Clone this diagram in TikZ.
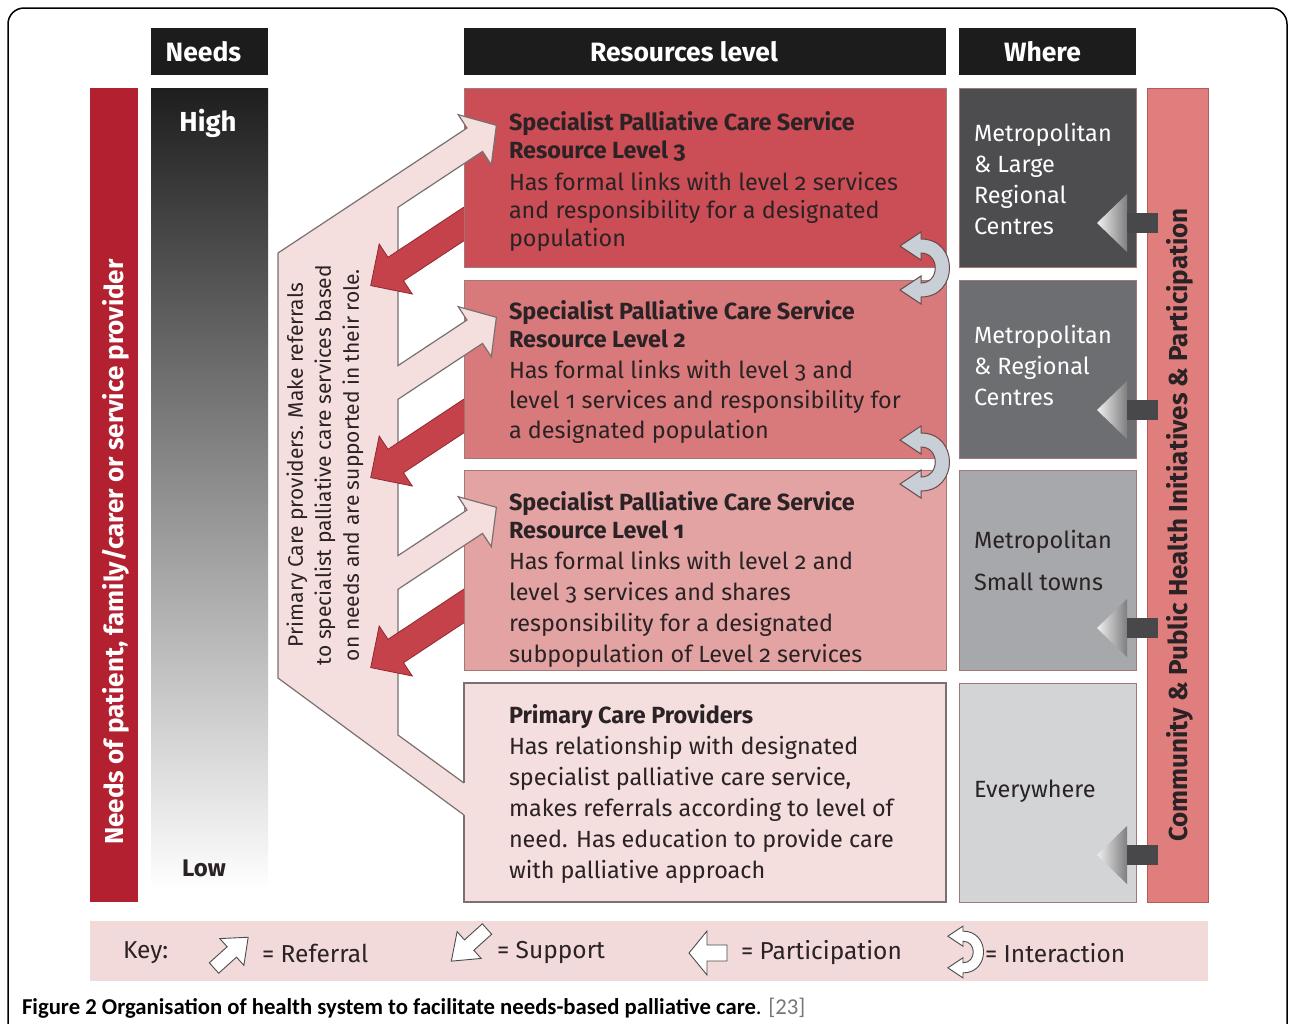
\documentclass[tikz,border=0pt]{standalone}
\usepackage{fontspec}
\setmainfont{Fira Sans}[Numbers=OldStyle]
\newfontfamily\capfont{Carlito}
\usetikzlibrary{positioning}

\definecolor{hdrblack}{HTML}{1C1C1C}
\definecolor{needred}{HTML}{B3202F}
\definecolor{needdark}{HTML}{1E1E1E}
\definecolor{lvlthree}{HTML}{CB4D55}
\definecolor{lvltwo}{HTML}{D87A7B}
\definecolor{lvlone}{HTML}{E4A3A3}
\definecolor{pcpink}{HTML}{F4DEDE}
\definecolor{boxline}{HTML}{A07A7A}
\definecolor{bandgray}{HTML}{7A7070}
\definecolor{supportred}{HTML}{C6424A}
\definecolor{supportdark}{HTML}{8E2A31}
\definecolor{wherea}{HTML}{4D4D4F}
\definecolor{whereb}{HTML}{6D6E71}
\definecolor{wherec}{HTML}{A6A8AB}
\definecolor{whered}{HTML}{D3D4D6}
\definecolor{commred}{HTML}{E07E7E}
\definecolor{commline}{HTML}{B35A5A}
\definecolor{interactgray}{HTML}{C9CFD6}
\definecolor{interactdark}{HTML}{6A4A4A}
\definecolor{partlight}{HTML}{F0F0F0}
\definecolor{partdark}{HTML}{7E7E80}
\definecolor{partshaft}{HTML}{48484A}
\definecolor{keypink}{HTML}{F3DADA}
\definecolor{capgray}{HTML}{777777}
\definecolor{textdark}{HTML}{2A2224}

\tikzset{
	x=1pt, y=-1pt,
	every node/.style={inner sep=0pt, outer sep=0pt},
	frame/.style={draw=black, line width=1.5pt, rounded corners=16pt},
	hdr/.style={fill=hdrblack, minimum height=47, anchor=north west},
	hdrtext/.style={text=white, font=\fontsize{26.5}{30}\selectfont\bfseries},
	bar/.style={anchor=north west},
	box/.style={anchor=north west, draw=boxline, line width=0.8pt},
	boxtext/.style={anchor=north west, align=left, text=textdark, font=\fontsize{23.4}{#1}\selectfont},
	boxtext/.default=30,
	wheretext/.style={anchor=north west, align=left, font=\fontsize{23.5}{31}\selectfont},
	sidetext/.style={rotate=90, font=\fontsize{26}{30}\selectfont\bfseries},
	bandline/.style={draw=bandgray, line width=1.2pt, fill=pcpink},
	support/.style={draw=supportdark, line width=0.8pt, fill=supportred},
	interact/.style={fill=interactgray, draw=interactdark, line width=1pt},
	keyicon/.style={fill=white, draw=gray!60!black, line width=0.9pt},
	keytext/.style={anchor=west, text=textdark, font=\fontsize{24.5}{28}\selectfont},
}

% support arrow from a resource box, #1 = vertical offset
\newcommand{\supportarrow}[1]{%
	\draw[support, shift={(0,#1)}] (464,207) -- (388,257.3) -- (379.2,244) -- (370.7,285.6)
		-- (412.3,294) -- (403.5,280.7) -- (464,240.7);}
% interaction arrow, #1 = options
\newcommand{\interactarrow}[1]{%
	\draw[#1] (-21,-22) -- (0,-36) -- (0,-29) .. controls (38,-29) and (38,29) .. (0,29)
		-- (0,36) -- (-21,22) -- (0,8) -- (0,15) .. controls (19,15) and (19,-15) .. (0,-15)
		-- (0,-8) -- cycle;}
% participation arrow, #1 = y of its axis
\newcommand{\partarrow}[1]{%
	\shade[left color=partlight, right color=partdark] (1097,#1) -- (1127,#1-29) -- (1127,#1+29) -- cycle;
	\fill[partshaft] (1127,#1-10) rectangle (1158,#1+10);}

\begin{document}
\begin{tikzpicture}
	\useasboundingbox (0,0) rectangle (1289,1023);
	\draw[frame] (8,1045) -- (8,8) -- (1287,8) -- (1287,1045);

	% headers
	\node[hdr, minimum width=117] (needhdr) at (151,28) {};
	\node[hdr, minimum width=482] (reshdr) at (464,28) {};
	\node[hdr, minimum width=177] (wherehdr) at (959,28) {};
	\node[hdrtext] (needhdrtxt) at ([xshift=-6]needhdr.center) {Needs};
	\node[hdrtext] (reshdrtxt) at ([xshift=-21]reshdr.center) {Resources level};
	\node[hdrtext] (wherehdrtxt) at ([xshift=-5]wherehdr.center) {Where};

	% needs columns
	\node[bar, fill=needred, minimum width=48, minimum height=814] (needbar) at (90,88) {};
	\node[bar, top color=needdark, bottom color=white, minimum width=117, minimum height=802] (needgrad) at (151,88) {};
	\node[sidetext, text=white] (needtxt) at (116,552) {Needs of patient, family/carer or service provider};
	\node[font=\fontsize{27.5}{30}\selectfont\bfseries, text=white] (high) at (208,123) {High};
	\node[font=\fontsize{24}{26}\selectfont\bfseries, text=textdark] (low) at (204,868) {Low};

	% resource levels
	\node[box, fill=lvlthree, minimum width=482, minimum height=179] (lvl3) at (464,88) {};
	\node[box, fill=lvltwo, minimum width=482, minimum height=178] (lvl2) at (464,280) {};
	\node[box, fill=lvlone, minimum width=482, minimum height=200] (lvl1) at (464,470) {};
	\node[bar, fill=pcpink, minimum width=482, minimum height=219] (pcp) at (464,683) {};

	% primary care band with referral arrows
	\draw[bandline] (464,783) -- (398,735) -- (398,589.3)
		-- (482.5,533.4) -- (491.3,546.7) -- (496.4,507.3) -- (458.2,496.7) -- (467,510) -- (398,555.6)
		-- (398,399.3)
		-- (482.5,343.4) -- (491.3,356.7) -- (496.4,317.3) -- (458.2,306.7) -- (467,320) -- (398,365.6)
		-- (398,207.3)
		-- (482.5,151.4) -- (491.3,164.7) -- (496.4,125.3) -- (458.2,114.7) -- (467,128)
		-- (278,253) -- (278,678) -- (464,815);
	\draw[draw=bandgray, line width=1.2pt] (464,783) -- (pcp.north west) -- (pcp.north east)
		-- (pcp.south east) -- (pcp.south west) -- (464,815);
	\node[rotate=90, align=center, text=textdark, font=\fontsize{21}{28}\selectfont] (pcptxt) at (325,465)
		{Primary Care providers. Make referrals\\to specialist palliative care services based\\on needs and are supported in their role.};

	% support arrows
	\supportarrow{0}
	\supportarrow{192}
	\supportarrow{382}

	% interaction arrows
	\interactarrow{interact, shift={(921,268)}}
	\interactarrow{interact, shift={(921,462)}}

	% box texts
	\node[boxtext] (lvl3txt) at (509,112) {\textbf{Specialist Palliative Care Service}\\[-2pt]\textbf{Resource Level 3}\\[2pt]Has formal links with level 2 services\\[-2pt]and responsibility for a designated\\[-2pt]population};
	\node[boxtext] (lvl2txt) at (509,301) {\textbf{Specialist Palliative Care Service}\\[-2pt]\textbf{Resource Level 2}\\[1pt]Has formal links with level 3 and\\level 1 services and responsibility for\\a designated population};
	\node[boxtext=31] (lvl1txt) at (509,492) {\textbf{Specialist Palliative Care Service}\\[-3pt]\textbf{Resource Level 1}\\Has formal links with level 2 and\\level 3 services and shares\\responsibility for a designated\\subpopulation of Level 2 services};
	\node[boxtext=31] (pcptxt2) at (509,705) {\textbf{Primary Care Providers}\\Has relationship with designated\\specialist palliative care service,\\makes referrals according to level of\\need. Has education to provide care\\with palliative approach};

	% where column
	\node[box, fill=wherea, minimum width=177, minimum height=179] (wherea) at (959,88) {};
	\node[box, fill=whereb, minimum width=177, minimum height=178] (whereb) at (959,280) {};
	\node[box, fill=wherec, minimum width=177, minimum height=200] (wherec) at (959,470) {};
	\node[box, fill=whered, minimum width=177, minimum height=219] (whered) at (959,683) {};
	\node[wheretext, text=white] (whereatxt) at (974,123) {Metropolitan\\\& Large\\Regional\\Centres};
	\node[wheretext, text=white] (wherebtxt) at (974,325) {Metropolitan\\\& Regional\\Centres};
	\node[wheretext, text=textdark] (wherectxt) at (974,530) {Metropolitan\\[11pt]Small towns};
	\node[wheretext, text=textdark] (wheredtxt) at (974,780) {Everywhere};

	% community column
	\node[bar, fill=commred, draw=commline, line width=1pt, minimum width=61, minimum height=814] (commbar) at (1147,88) {};
	\node[sidetext, text=textdark] (commtxt) at (1180,525) {Community \& Public Health Initiatives \& Participation};

	% participation arrows
	\partarrow{223}
	\partarrow{410}
	\partarrow{628}
	\partarrow{855}

	% key
	\node[bar, fill=keypink, minimum width=1118, minimum height=60] (keybar) at (90,921) {};
	\node[keytext] (keylbl) at (123,953) {Key:};
	\draw[keyicon, shift={(214,968)}, rotate=42] (0,-7) -- (24,-7) -- (24,-18) -- (46,0) -- (24,18) -- (24,7) -- (0,7) -- cycle;
	\node[keytext] (keyref) at (262,953) {= Referral};
	\draw[keyicon, shift={(487,929)}, rotate=222] (0,-7) -- (24,-7) -- (24,-18) -- (48,0) -- (24,18) -- (24,7) -- (0,7) -- cycle;
	\node[keytext] (keysup) at (497,953) {= Support};
	\draw[keyicon, shift={(727,953)}, rotate=180] (0,-8) -- (20,-8) -- (20,-22) -- (38,0) -- (20,22) -- (20,8) -- (0,8) -- cycle;
	\node[keytext] (keypart) at (741,953) {= Participation};
	\interactarrow{keyicon, shift={(963,952)}, scale=0.72}
	\node[keytext] (keyint) at (985,953) {= Interaction};

	% caption
	\node[anchor=west, font=\capfont\fontsize{22.7}{25}\selectfont] (caption) at (22,1008)
		{\textbf{Figure 2 Organisation of health system to facilitate needs-based palliative care}. \textcolor{capgray}{[23]}};
\end{tikzpicture}
\end{document}
